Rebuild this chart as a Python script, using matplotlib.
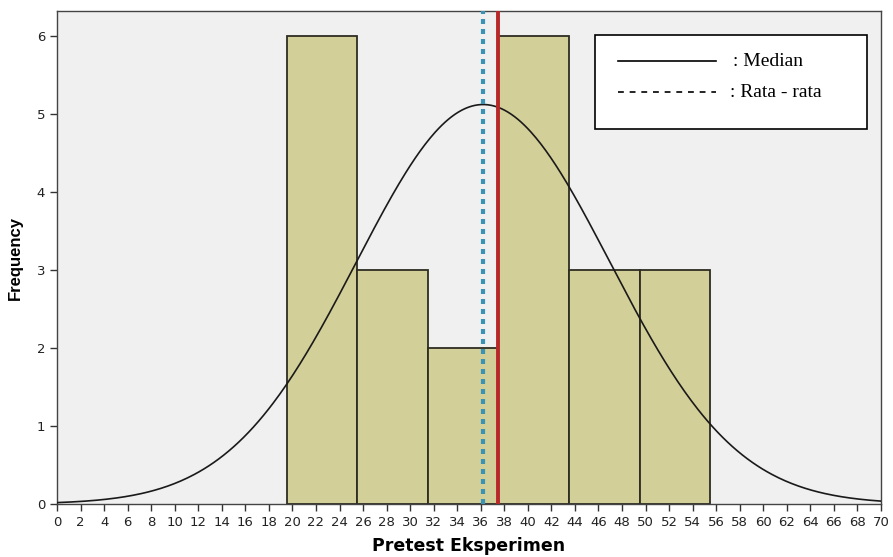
import numpy as np
import matplotlib
matplotlib.use("Agg")
import matplotlib.pyplot as plt
from matplotlib.patches import Rectangle

# Data
bin_edges = [19.5, 25.5, 31.5, 37.5, 43.5, 49.5, 55.5]
counts = [6, 3, 2, 6, 3, 3]
mean_value = 36.2
median_value = 37.5
std_value = 10.75
n_total = 23
x_ticks = list(range(0, 71, 2))
y_ticks = [0, 1, 2, 3, 4, 5, 6]

fig = plt.figure(figsize=(8.93, 5.57), dpi=100)
ax = fig.add_axes([0.0638, 0.0952, 0.9228, 0.885])
ax.set_facecolor("#f0f0f0")

widths = np.diff(bin_edges)
ax.bar(bin_edges[:-1], counts, width=widths, align="edge",
       color="#d3cf98", edgecolor="#2e2d22", linewidth=1.3, zorder=2)

xs = np.linspace(0, 70, 500)
bw = widths[0]
ys = n_total * bw / (std_value * np.sqrt(2 * np.pi)) * np.exp(-(xs - mean_value) ** 2 / (2 * std_value ** 2))
ax.plot(xs, ys, color="#1a1a1a", linewidth=1.2, zorder=3)

ax.axvline(mean_value, color="#3a92b5", linestyle=(0, (1.2, 1.2)), linewidth=3, zorder=4)
ax.axvline(median_value, color="#b8282a", linewidth=2.8, zorder=4)

ax.set_xlim(0, 70)
ax.set_ylim(0, 6.32)
ax.set_xticks(x_ticks)
ax.set_yticks(y_ticks)
ax.tick_params(axis="both", direction="out", length=5, width=1, colors="#333333",
               labelsize=9.5, labelcolor="#222222")
for s in ax.spines.values():
    s.set_color("#444444")
    s.set_linewidth(1)

ax.set_xlabel("Pretest Eksperimen", fontsize=12.5, fontweight="bold", labelpad=6,
              family="DejaVu Sans")
ax.set_ylabel("Frequency", fontsize=12, fontweight="bold", labelpad=10,
              family="Liberation Sans")

# Legend box (drawn manually, in figure pixel coords)
W, H = 893, 557
def fx(px): return px / W
def fy(py): return 1 - py / H
box = Rectangle((fx(595), fy(129)), fx(867) - fx(595), fy(35) - fy(129),
                transform=fig.transFigure, facecolor="white", edgecolor="black",
                linewidth=1.2, zorder=10)
fig.patches.append(box)
fig.lines.append(plt.Line2D([fx(618), fx(716)], [fy(61), fy(61)], transform=fig.transFigure,
                            color="black", linewidth=1.2, zorder=11))
fig.lines.append(plt.Line2D([fx(618), fx(716)], [fy(92), fy(92)], transform=fig.transFigure,
                            color="black", linewidth=1.2, linestyle=(0, (3.5, 3.5)), zorder=11))
fig.text(fx(733), fy(66), ": Median", fontsize=14, family="Liberation Serif",
         va="baseline", ha="left", zorder=12)
fig.text(fx(730), fy(97), ": Rata - rata", fontsize=14, family="Liberation Serif",
         va="baseline", ha="left", zorder=12)

fig.savefig("out.png", dpi=100, facecolor="white")
